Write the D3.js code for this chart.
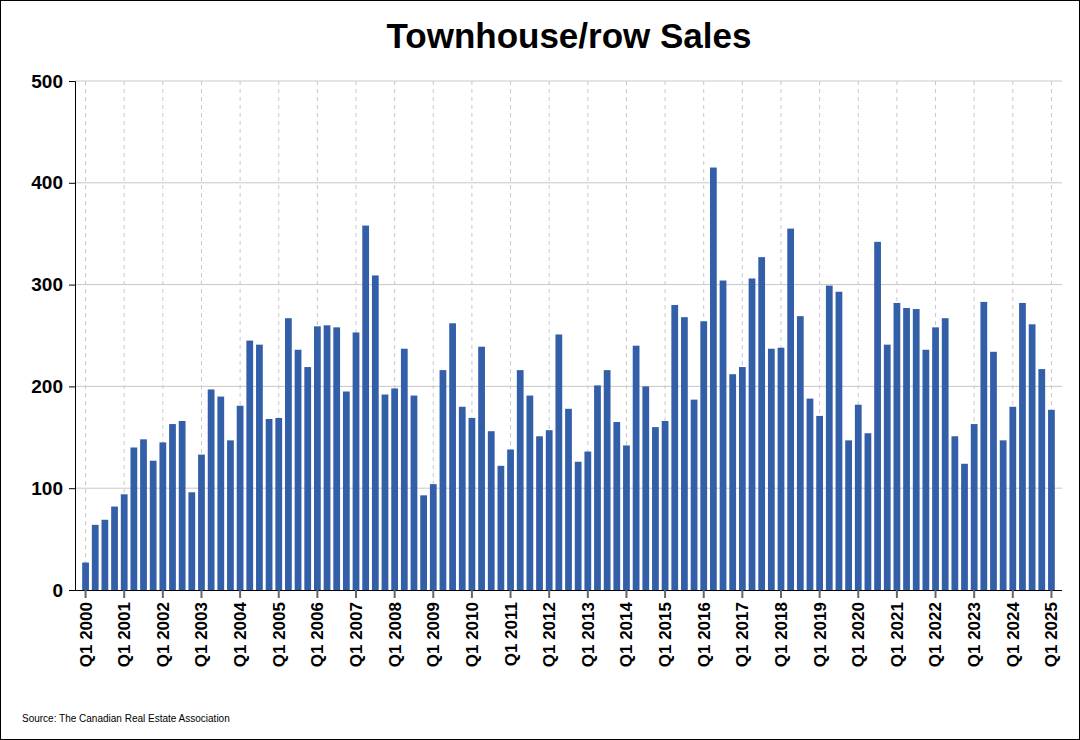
<!DOCTYPE html>
<html><head><meta charset="utf-8">
<script src="https://cdn.jsdelivr.net/npm/d3@7"></script>
<style>body{margin:0;background:#fff}svg{display:block;font-family:Arial,"Liberation Sans",sans-serif}</style>
</head><body><svg id="c" width="1080" height="740"></svg>
<script>
const years = d3.range(2000, 2026);
const quarters = years.flatMap(y => [1,2,3,4].map(q => `Q${q} ${y}`)).slice(0, 101);
const sales = [
27,64,69,82, 94,140,148,127, 145,163,166,96, 133,197,190,147,
181,245,241,168, 169,267,236,219, 259,260,258,195, 253,358,309,192,
198,237,191,93, 104,216,262,180, 169,239,156,122, 138,216,191,151,
157,251,178,126, 136,201,216,165, 142,240,200,160, 166,280,268,187,
264,415,304,212, 219,306,327,237, 238,355,269,188, 171,299,293,147,
182,154,342,241, 282,277,276,236, 258,267,151,124, 163,283,234,147,
180,282,261,217, 177];
const yTicks = [0,100,200,300,400,500];

const svg = d3.select("#c");
svg.append("rect").attr("x",0.5).attr("y",0.5).attr("width",1079).attr("height",739).attr("fill","#fff").attr("stroke","#000");
const L=75,R=1062,T=81,B=590;
const step=(1050-87)/100;
const x=d3.scaleBand().domain(quarters).range([87-step/2,1050+step/2]).paddingInner(0.3).paddingOuter(0);
const y=d3.scaleLinear().domain([0,500]).range([B,T]);

svg.append("g").selectAll("line").data(yTicks.slice(1)).join("line")
 .attr("x1",L).attr("x2",R).attr("y1",d=>y(d)).attr("y2",d=>y(d)).attr("stroke","#c8c8c8").attr("stroke-width",1);
const q1=quarters.filter(q=>q.startsWith("Q1"));
svg.append("g").selectAll("line").data(q1).join("line")
 .attr("x1",d=>x(d)+x.bandwidth()/2).attr("x2",d=>x(d)+x.bandwidth()/2).attr("y1",T).attr("y2",B)
 .attr("stroke","#c8c8c8").attr("stroke-dasharray","4,4");

svg.append("g").selectAll("rect").data(sales).join("rect")
 .attr("x",(d,i)=>x(quarters[i])).attr("width",x.bandwidth())
 .attr("y",d=>y(d)).attr("height",d=>B-y(d)).attr("fill","#335fa8");

const ya=svg.append("g").attr("transform",`translate(${L},0)`).call(d3.axisLeft(y).tickValues(yTicks).tickSize(6).tickPadding(6));
ya.selectAll("text").attr("font-size",19).attr("font-weight","bold").attr("fill","#000").attr("font-family","Arial,'Liberation Sans',sans-serif");
ya.select(".domain").attr("stroke","#000");
ya.selectAll(".tick line").attr("stroke","#000");

const xa=svg.append("g").attr("transform",`translate(0,${B})`)
 .call(d3.axisBottom(x).tickValues(q1).tickSize(8).tickSizeOuter(0));
xa.select(".domain").attr("d",`M${L},0.5H${R}`).attr("stroke","#000");
xa.selectAll(".tick line").attr("stroke","#666").attr("stroke-width",2);
xa.selectAll("text").attr("font-size",17).attr("font-weight","bold").attr("fill","#000")
 .attr("font-family","Arial,'Liberation Sans',sans-serif")
 .attr("transform","rotate(-90)").attr("text-anchor","end").attr("x",-12).attr("y",0).attr("dy","0.35em");

svg.append("text").attr("x",569).attr("y",48).attr("text-anchor","middle").attr("font-size",35).attr("font-weight","bold").text("Townhouse/row Sales");
svg.append("text").attr("x",22).attr("y",722).attr("font-size",10).text("Source: The Canadian Real Estate Association");
</script></body></html>
